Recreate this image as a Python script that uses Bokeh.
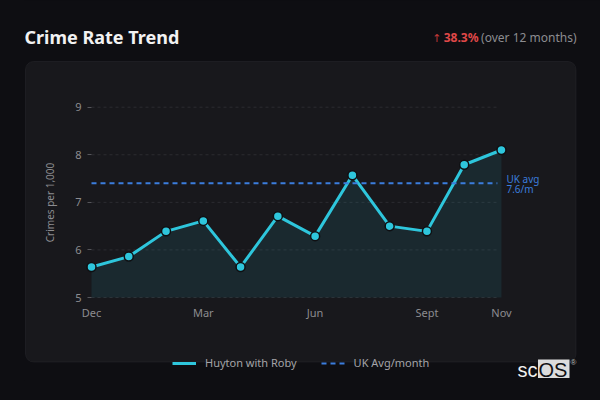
import math
from bokeh.plotting import figure
from bokeh.models import (Range1d, FixedTicker, BoxAnnotation, Label, Legend, LegendItem)
from bokeh.embed import file_html
from bokeh.resources import INLINE

# ---------------- data ----------------
months = ["Dec", "Jan", "Feb", "Mar", "Apr", "May", "Jun", "Jul", "Aug", "Sept", "Oct", "Nov"]
crime_rate = [5.64, 5.86, 6.39, 6.61, 5.64, 6.71, 6.29, 7.57, 6.50, 6.39, 7.79, 8.10]
uk_avg = 7.40
uk_avg_text = ["UK avg", "7.6/m"]
tick_months = ["Dec", "Mar", "Jun", "Sept", "Nov"]
y_ticks = [5, 6, 7, 8, 9]
series_name = "Huyton with Roby"
avg_name = "UK Avg/month"
title_text = "Crime Rate Trend"
change_text = "38.3%"
period_text = "(over 12 months)"
y_label = "Crimes per 1,000"

# ---------------- style ----------------
BG = "#0e0e12"
PANEL = "#18181c"
BORDER = "#36363b"
GRID = "#2c2c31"
TEAL = "#2ec6dc"
BLUE = "#3b7ddd"
GREY = "#8c8c90"
RED = "#e04848"
FONT = "Noto Sans"

x = list(range(len(months)))
tick_idx = [months.index(m) for m in tick_months]

p = figure(width=600, height=400, output_backend="svg", toolbar_location=None, title=None,
           x_range=Range1d(-1.7977, 13.657), y_range=Range1d(3.2554, 11.2428),
           min_border_left=24, min_border_right=0, min_border_top=0, min_border_bottom=20)
p.background_fill_color = None
p.border_fill_color = None
p.styles = {"background-color": BG}
p.outline_line_color = None
p.xgrid.visible = False
p.ygrid.visible = False

C = dict(left_units="canvas", right_units="canvas", top_units="canvas", bottom_units="canvas")

# page background inside frame + panel box
p.add_layout(BoxAnnotation(left=0, right=600, top=0, bottom=400, **C,
                           fill_color=BG, fill_alpha=1, line_color=None, level="image"))
p.add_layout(BoxAnnotation(left=25, right=575.5, top=61, bottom=361.5, **C,
                           fill_color=PANEL, fill_alpha=1, line_color=BORDER, line_width=1,
                           border_radius=8, level="underlay"))

# grid lines
n = len(y_ticks)
grid_end = len(months) - 1 - 0.11
p.segment(x0=[x[0]] * n, x1=[grid_end] * n, y0=y_ticks, y1=y_ticks,
          line_color=GRID, line_width=1, line_dash="3 3")

# area + line + markers
p.varea(x=x, y1=[min(y_ticks)] * len(x), y2=crime_rate, fill_color=TEAL, fill_alpha=0.1)
line_r = p.line(x, crime_rate, line_color=TEAL, line_width=3)
p.scatter(x, crime_rate, size=9, fill_color=TEAL, line_color="#0f0f12", line_width=1.5)

# UK average line
uk_r = p.line([x[0], grid_end], [uk_avg, uk_avg], line_color=BLUE, line_width=2, line_dash="5 4")
p.add_layout(Label(x=x[-1], y=uk_avg, x_offset=5, y_offset=4.5, text=uk_avg_text[0],
                   text_color=BLUE, text_font=FONT, text_font_size="10px", text_baseline="middle"))
p.add_layout(Label(x=x[-1], y=uk_avg, x_offset=5, y_offset=-5.5, text=uk_avg_text[1],
                   text_color=BLUE, text_font=FONT, text_font_size="10px", text_baseline="middle"))

# axes
ya = p.yaxis[0]
ya.ticker = FixedTicker(ticks=y_ticks)
ya.fixed_location = x[0]
ya.axis_line_color = None
ya.major_tick_line_color = "#55555a"
ya.major_tick_out = 4
ya.major_tick_in = 0
ya.minor_tick_line_color = None
ya.major_label_text_color = GREY
ya.major_label_text_font = FONT
ya.major_label_text_font_size = "11px"
ya.major_label_standoff = 6

xa = p.xaxis[0]
xa.ticker = FixedTicker(ticks=tick_idx)
xa.major_label_overrides = {i: months[i] for i in tick_idx}
xa.fixed_location = 4.84
xa.axis_line_color = None
xa.major_tick_line_color = None
xa.major_tick_out = 0
xa.major_tick_in = 0
xa.minor_tick_line_color = None
xa.major_label_text_color = GREY
xa.major_label_text_font = FONT
xa.major_label_text_font_size = "11px"
xa.major_label_standoff = 0

# y axis title
p.add_layout(Label(x=49, y=202, x_units="canvas", y_units="canvas", text=y_label, angle=math.pi / 2,
                   text_color=GREY, text_font=FONT, text_font_size="10px",
                   text_align="center", text_baseline="middle"))

# legend
legend = Legend(items=[LegendItem(label=series_name, renderers=[line_r]),
                       LegendItem(label=avg_name, renderers=[uk_r])],
                orientation="horizontal", location=(148, 10),
                glyph_width=24, glyph_height=12, label_height=12, label_standoff=9,
                spacing=24, padding=0, margin=0,
                background_fill_alpha=0, border_line_alpha=0,
                label_text_color="#a4a4a8", label_text_font=FONT, label_text_font_size="11px")
p.add_layout(legend)

# title and change text
p.add_layout(Label(x=24, y=36, x_units="canvas", y_units="canvas", text=title_text,
                   text_color="#f2f2f2", text_font=FONT, text_font_size="18px",
                   text_font_style="bold", text_baseline="middle"))
p.add_layout(Label(x=576, y=37, x_units="canvas", y_units="canvas", text=period_text,
                   text_color=GREY, text_font=FONT, text_font_size="12px",
                   text_align="right", text_baseline="middle"))
p.add_layout(Label(x=478, y=37, x_units="canvas", y_units="canvas", text=change_text,
                   text_color=RED, text_font=FONT, text_font_size="12px", text_font_style="bold",
                   text_align="right", text_baseline="middle"))
p.add_layout(Label(x=441, y=38, x_units="canvas", y_units="canvas", text="\u2191",
                   text_color="#c03838", text_font="DejaVu Sans", text_font_size="11px",
                   text_align="right", text_baseline="middle"))

# logo
p.add_layout(BoxAnnotation(left=537.5, right=569, top=359, bottom=377.5, **C,
                           fill_color="#dcdcdc", fill_alpha=1, line_color=None, level="annotation"))
p.add_layout(Label(x=517, y=369.5, x_units="canvas", y_units="canvas", text="sc",
                   text_color="#f0f0f0", text_font="Liberation Sans", text_font_size="20px",
                   text_baseline="middle"))
p.add_layout(Label(x=538, y=369.5, x_units="canvas", y_units="canvas", text="OS",
                   text_color="#111114", text_font="Liberation Sans", text_font_size="20px",
                   text_baseline="middle"))
p.add_layout(Label(x=570, y=362, x_units="canvas", y_units="canvas", text="\u00ae",
                   text_color="#bbbbbb", text_font="Liberation Sans", text_font_size="8px",
                   text_baseline="middle"))

open("out.html", "w").write(file_html(p, INLINE))
